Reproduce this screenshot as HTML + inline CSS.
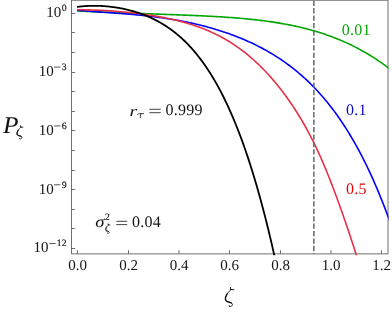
<!DOCTYPE html>
<html><head><meta charset="utf-8">
<style>
html,body{margin:0;padding:0;background:#fff;overflow:hidden;}
svg{display:block;will-change:transform;font-family:"Liberation Serif",serif;text-rendering:geometricPrecision;}
</style></head>
<body>
<svg width="392" height="312" viewBox="0 0 392 312">
<defs><clipPath id="c"><rect x="71.6" y="0" width="316.9" height="255.2"/></clipPath></defs>
<g stroke="#4c4c4c" stroke-width="0.8" fill="none">
<rect x="71.6" y="0.2" width="316.4" height="253.70000000000002"/>
<line x1="77.5" y1="253.9" x2="77.5" y2="250.20"/>
<line x1="128.5" y1="253.9" x2="128.5" y2="250.20"/>
<line x1="179.0" y1="253.9" x2="179.0" y2="250.20"/>
<line x1="229.5" y1="253.9" x2="229.5" y2="250.20"/>
<line x1="280.5" y1="253.9" x2="280.5" y2="250.20"/>
<line x1="331.0" y1="253.9" x2="331.0" y2="250.20"/>
<line x1="381.5" y1="253.9" x2="381.5" y2="250.20"/>
<line x1="71.6" y1="13.5" x2="75.20" y2="13.5"/>
<line x1="71.6" y1="32.5" x2="74.90" y2="32.5"/>
<line x1="71.6" y1="52.5" x2="74.90" y2="52.5"/>
<line x1="71.6" y1="72.5" x2="75.20" y2="72.5"/>
<line x1="71.6" y1="91.5" x2="74.90" y2="91.5"/>
<line x1="71.6" y1="111.5" x2="74.90" y2="111.5"/>
<line x1="71.6" y1="130.5" x2="75.20" y2="130.5"/>
<line x1="71.6" y1="150.5" x2="74.90" y2="150.5"/>
<line x1="71.6" y1="170.5" x2="74.90" y2="170.5"/>
<line x1="71.6" y1="189.5" x2="75.20" y2="189.5"/>
<line x1="71.6" y1="209.5" x2="74.90" y2="209.5"/>
<line x1="71.6" y1="228.5" x2="74.90" y2="228.5"/>
<line x1="71.6" y1="248.5" x2="75.20" y2="248.5"/>
</g>
<g clip-path="url(#c)" fill="none" stroke-width="1.6" stroke-linejoin="round">
<path d="M77.00,10.99 L78.57,11.04 L80.14,11.10 L81.71,11.16 L83.28,11.22 L84.85,11.29 L86.42,11.35 L87.99,11.41 L89.56,11.47 L91.13,11.54 L92.70,11.60 L94.27,11.66 L95.84,11.73 L97.41,11.79 L98.98,11.85 L100.56,11.92 L102.13,11.98 L103.70,12.04 L105.27,12.11 L106.84,12.17 L108.41,12.24 L109.98,12.30 L111.55,12.36 L113.12,12.42 L114.69,12.49 L116.26,12.55 L117.83,12.61 L119.40,12.67 L120.97,12.74 L122.54,12.80 L124.11,12.86 L125.68,12.92 L127.25,12.98 L128.82,13.04 L130.39,13.10 L131.96,13.16 L133.53,13.22 L135.10,13.28 L136.67,13.34 L138.24,13.40 L139.81,13.46 L141.38,13.51 L142.95,13.57 L144.53,13.63 L146.10,13.69 L147.67,13.75 L149.24,13.80 L150.81,13.86 L152.38,13.92 L153.95,13.97 L155.52,14.03 L157.09,14.09 L158.66,14.14 L160.23,14.20 L161.80,14.26 L163.37,14.32 L164.94,14.37 L166.51,14.43 L168.08,14.49 L169.65,14.54 L171.22,14.60 L172.79,14.66 L174.36,14.72 L175.93,14.78 L177.50,14.84 L179.07,14.90 L180.64,14.96 L182.21,15.02 L183.78,15.08 L185.35,15.14 L186.92,15.20 L188.49,15.27 L190.07,15.33 L191.64,15.40 L193.21,15.47 L194.78,15.53 L196.35,15.60 L197.92,15.67 L199.49,15.74 L201.06,15.81 L202.63,15.89 L204.20,15.96 L205.77,16.04 L207.34,16.12 L208.91,16.20 L210.48,16.28 L212.05,16.37 L213.62,16.45 L215.19,16.54 L216.76,16.63 L218.33,16.72 L219.90,16.82 L221.47,16.91 L223.04,17.01 L224.61,17.11 L226.18,17.22 L227.75,17.33 L229.32,17.44 L230.89,17.55 L232.46,17.66 L234.04,17.78 L235.61,17.91 L237.18,18.03 L238.75,18.16 L240.32,18.29 L241.89,18.43 L243.46,18.57 L245.03,18.72 L246.60,18.86 L248.17,19.02 L249.74,19.17 L251.31,19.33 L252.88,19.50 L254.45,19.67 L256.02,19.84 L257.59,20.02 L259.16,20.21 L260.73,20.40 L262.30,20.59 L263.87,20.79 L265.44,21.00 L267.01,21.21 L268.58,21.43 L270.15,21.65 L271.72,21.88 L273.29,22.12 L274.86,22.36 L276.43,22.61 L278.01,22.86 L279.58,23.12 L281.15,23.39 L282.72,23.67 L284.29,23.95 L285.86,24.24 L287.43,24.54 L289.00,24.84 L290.57,25.15 L292.14,25.48 L293.71,25.80 L295.28,26.14 L296.85,26.49 L298.42,26.84 L299.99,27.21 L301.56,27.58 L303.13,27.96 L304.70,28.35 L306.27,28.75 L307.84,29.16 L309.41,29.58 L310.98,30.01 L312.55,30.45 L314.12,30.90 L315.69,31.36 L317.26,31.84 L318.83,32.32 L320.40,32.81 L321.97,33.32 L323.55,33.84 L325.12,34.36 L326.69,34.90 L328.26,35.46 L329.83,36.02 L331.40,36.60 L332.97,37.19 L334.54,37.79 L336.11,38.41 L337.68,39.04 L339.25,39.68 L340.82,40.34 L342.39,41.01 L343.96,41.69 L345.53,42.39 L347.10,43.11 L348.67,43.83 L350.24,44.58 L351.81,45.34 L353.38,46.11 L354.95,46.90 L356.52,47.71 L358.09,48.53 L359.66,49.37 L361.23,50.22 L362.80,51.09 L364.37,51.98 L365.94,52.89 L367.52,53.81 L369.09,54.75 L370.66,55.71 L372.23,56.69 L373.80,57.69 L375.37,58.70 L376.94,59.73 L378.51,60.79 L380.08,61.86 L381.65,62.95 L383.22,64.06 L384.79,65.20 L386.36,66.35 L387.93,67.52 L389.50,68.70" stroke="#04a604"/>
<path d="M77.00,10.24 L78.57,10.38 L80.14,10.52 L81.71,10.66 L83.28,10.80 L84.85,10.93 L86.42,11.06 L87.99,11.19 L89.56,11.31 L91.13,11.43 L92.70,11.55 L94.27,11.66 L95.84,11.77 L97.41,11.88 L98.98,11.99 L100.56,12.10 L102.13,12.21 L103.70,12.32 L105.27,12.43 L106.84,12.53 L108.41,12.64 L109.98,12.75 L111.55,12.86 L113.12,12.97 L114.69,13.08 L116.26,13.19 L117.83,13.30 L119.40,13.42 L120.97,13.54 L122.54,13.65 L124.11,13.78 L125.68,13.90 L127.25,14.03 L128.82,14.16 L130.39,14.29 L131.96,14.42 L133.53,14.56 L135.10,14.71 L136.67,14.85 L138.24,15.00 L139.81,15.16 L141.38,15.31 L142.95,15.47 L144.53,15.64 L146.10,15.81 L147.67,15.99 L149.24,16.17 L150.81,16.35 L152.38,16.54 L153.95,16.73 L155.52,16.93 L157.09,17.13 L158.66,17.34 L160.23,17.56 L161.80,17.78 L163.37,18.00 L164.94,18.24 L166.51,18.47 L168.08,18.72 L169.65,18.97 L171.22,19.22 L172.79,19.48 L174.36,19.75 L175.93,20.02 L177.50,20.30 L179.07,20.59 L180.64,20.88 L182.21,21.18 L183.78,21.49 L185.35,21.80 L186.92,22.12 L188.49,22.45 L190.07,22.79 L191.64,23.13 L193.21,23.48 L194.78,23.84 L196.35,24.20 L197.92,24.57 L199.49,24.95 L201.06,25.34 L202.63,25.74 L204.20,26.14 L205.77,26.56 L207.34,26.98 L208.91,27.41 L210.48,27.85 L212.05,28.29 L213.62,28.75 L215.19,29.22 L216.76,29.69 L218.33,30.18 L219.90,30.67 L221.47,31.17 L223.04,31.69 L224.61,32.21 L226.18,32.74 L227.75,33.29 L229.32,33.84 L230.89,34.41 L232.46,34.98 L234.04,35.57 L235.61,36.17 L237.18,36.78 L238.75,37.40 L240.32,38.04 L241.89,38.69 L243.46,39.35 L245.03,40.02 L246.60,40.70 L248.17,41.40 L249.74,42.11 L251.31,42.84 L252.88,43.58 L254.45,44.33 L256.02,45.10 L257.59,45.89 L259.16,46.69 L260.73,47.50 L262.30,48.33 L263.87,49.18 L265.44,50.04 L267.01,50.92 L268.58,51.82 L270.15,52.74 L271.72,53.67 L273.29,54.62 L274.86,55.59 L276.43,56.59 L278.01,57.60 L279.58,58.63 L281.15,59.68 L282.72,60.75 L284.29,61.84 L285.86,62.96 L287.43,64.10 L289.00,65.26 L290.57,66.45 L292.14,67.65 L293.71,68.89 L295.28,70.15 L296.85,71.43 L298.42,72.74 L299.99,74.08 L301.56,75.45 L303.13,76.84 L304.70,78.26 L306.27,79.71 L307.84,81.19 L309.41,82.70 L310.98,84.25 L312.55,85.82 L314.12,87.43 L315.69,89.07 L317.26,90.74 L318.83,92.45 L320.40,94.20 L321.97,95.98 L323.55,97.80 L325.12,99.66 L326.69,101.55 L328.26,103.49 L329.83,105.46 L331.40,107.48 L332.97,109.54 L334.54,111.64 L336.11,113.79 L337.68,115.98 L339.25,118.22 L340.82,120.50 L342.39,122.83 L343.96,125.21 L345.53,127.64 L347.10,130.12 L348.67,132.66 L350.24,135.24 L351.81,137.88 L353.38,140.57 L354.95,143.33 L356.52,146.13 L358.09,149.00 L359.66,151.93 L361.23,154.91 L362.80,157.96 L364.37,161.07 L365.94,164.25 L367.52,167.49 L369.09,170.80 L370.66,174.18 L372.23,177.63 L373.80,181.14 L375.37,184.74 L376.94,188.40 L378.51,192.14 L380.08,195.95 L381.65,199.85 L383.22,203.82 L384.79,207.87 L386.36,212.01 L387.93,216.23 L389.50,220.52" stroke="#0000ff"/>
<path d="M77.00,9.81 L78.41,9.80 L79.81,9.80 L81.22,9.80 L82.62,9.81 L84.03,9.82 L85.43,9.84 L86.84,9.86 L88.24,9.89 L89.65,9.92 L91.05,9.96 L92.46,10.00 L93.86,10.04 L95.27,10.09 L96.67,10.15 L98.08,10.21 L99.48,10.27 L100.89,10.34 L102.29,10.41 L103.70,10.49 L105.10,10.57 L106.51,10.65 L107.91,10.74 L109.32,10.83 L110.72,10.92 L112.13,11.02 L113.53,11.12 L114.94,11.23 L116.34,11.34 L117.75,11.45 L119.15,11.57 L120.56,11.69 L121.96,11.82 L123.37,11.95 L124.77,12.08 L126.18,12.22 L127.58,12.36 L128.99,12.50 L130.39,12.65 L131.80,12.81 L133.20,12.96 L134.61,13.12 L136.01,13.29 L137.42,13.46 L138.82,13.63 L140.23,13.81 L141.63,14.00 L143.04,14.18 L144.44,14.38 L145.85,14.57 L147.25,14.78 L148.66,14.98 L150.06,15.20 L151.47,15.41 L152.87,15.64 L154.28,15.87 L155.68,16.10 L157.09,16.34 L158.49,16.59 L159.90,16.84 L161.30,17.10 L162.71,17.37 L164.11,17.64 L165.52,17.92 L166.92,18.20 L168.33,18.50 L169.73,18.80 L171.14,19.10 L172.54,19.42 L173.95,19.74 L175.35,20.07 L176.76,20.41 L178.16,20.76 L179.57,21.12 L180.97,21.49 L182.38,21.86 L183.78,22.25 L185.19,22.64 L186.59,23.05 L188.00,23.46 L189.40,23.89 L190.81,24.33 L192.21,24.77 L193.62,25.23 L195.02,25.70 L196.43,26.19 L197.83,26.68 L199.24,27.19 L200.64,27.71 L202.05,28.24 L203.45,28.79 L204.86,29.35 L206.26,29.92 L207.67,30.51 L209.07,31.11 L210.48,31.73 L211.88,32.36 L213.29,33.01 L214.69,33.68 L216.10,34.36 L217.50,35.06 L218.91,35.77 L220.31,36.51 L221.72,37.26 L223.12,38.03 L224.53,38.81 L225.93,39.62 L227.34,40.45 L228.74,41.29 L230.15,42.16 L231.55,43.04 L232.96,43.95 L234.36,44.88 L235.77,45.83 L237.17,46.80 L238.58,47.80 L239.98,48.81 L241.39,49.85 L242.79,50.92 L244.20,52.00 L245.60,53.11 L247.01,54.24 L248.41,55.39 L249.82,56.57 L251.22,57.78 L252.63,59.01 L254.03,60.26 L255.44,61.54 L256.84,62.84 L258.25,64.18 L259.65,65.53 L261.06,66.92 L262.46,68.33 L263.87,69.76 L265.27,71.23 L266.68,72.72 L268.08,74.24 L269.49,75.79 L270.89,77.37 L272.30,78.98 L273.70,80.62 L275.11,82.29 L276.51,83.99 L277.92,85.72 L279.32,87.48 L280.73,89.28 L282.13,91.10 L283.54,92.96 L284.94,94.85 L286.35,96.77 L287.75,98.73 L289.16,100.73 L290.56,102.75 L291.97,104.82 L293.37,106.92 L294.78,109.05 L296.18,111.23 L297.59,113.45 L298.99,115.71 L300.40,118.02 L301.80,120.38 L303.21,122.78 L304.61,125.23 L306.02,127.74 L307.42,130.30 L308.83,132.91 L310.23,135.58 L311.64,138.30 L313.04,141.09 L314.45,143.94 L315.85,146.85 L317.26,149.83 L318.66,152.87 L320.07,155.98 L321.47,159.16 L322.88,162.40 L324.28,165.71 L325.69,169.07 L327.09,172.50 L328.50,175.99 L329.90,179.53 L331.31,183.13 L332.71,186.79 L334.12,190.49 L335.52,194.25 L336.93,198.06 L338.33,201.91 L339.74,205.81 L341.14,209.75 L342.55,213.74 L343.95,217.77 L345.36,221.84 L346.76,225.95 L348.17,230.09 L349.57,234.27 L350.98,238.48 L352.38,242.73 L353.79,247.01 L355.19,251.31 L356.60,255.81" stroke="#e53248"/>
<path d="M77.00,6.91 L78.00,6.79 L78.99,6.67 L79.99,6.56 L80.98,6.46 L81.98,6.36 L82.97,6.28 L83.97,6.20 L84.97,6.12 L85.96,6.06 L86.96,6.00 L87.95,5.95 L88.95,5.91 L89.94,5.87 L90.94,5.85 L91.94,5.83 L92.93,5.81 L93.93,5.81 L94.92,5.81 L95.92,5.82 L96.91,5.83 L97.91,5.86 L98.91,5.89 L99.90,5.92 L100.90,5.97 L101.89,6.02 L102.89,6.07 L103.88,6.14 L104.88,6.21 L105.88,6.29 L106.87,6.37 L107.87,6.47 L108.86,6.56 L109.86,6.67 L110.85,6.78 L111.85,6.90 L112.85,7.03 L113.84,7.16 L114.84,7.30 L115.83,7.45 L116.83,7.61 L117.82,7.77 L118.82,7.94 L119.82,8.12 L120.81,8.30 L121.81,8.49 L122.80,8.69 L123.80,8.90 L124.79,9.11 L125.79,9.33 L126.79,9.56 L127.78,9.80 L128.78,10.05 L129.77,10.30 L130.77,10.56 L131.77,10.83 L132.76,11.11 L133.76,11.40 L134.75,11.69 L135.75,12.00 L136.74,12.31 L137.74,12.63 L138.74,12.96 L139.73,13.30 L140.73,13.65 L141.72,14.01 L142.72,14.38 L143.71,14.75 L144.71,15.14 L145.71,15.54 L146.70,15.95 L147.70,16.37 L148.69,16.80 L149.69,17.24 L150.68,17.69 L151.68,18.15 L152.68,18.62 L153.67,19.11 L154.67,19.60 L155.66,20.11 L156.66,20.63 L157.65,21.16 L158.65,21.71 L159.65,22.26 L160.64,22.83 L161.64,23.42 L162.63,24.01 L163.63,24.62 L164.62,25.25 L165.62,25.88 L166.62,26.53 L167.61,27.20 L168.61,27.88 L169.60,28.58 L170.60,29.29 L171.59,30.01 L172.59,30.76 L173.59,31.51 L174.58,32.29 L175.58,33.08 L176.57,33.89 L177.57,34.71 L178.56,35.55 L179.56,36.41 L180.56,37.29 L181.55,38.19 L182.55,39.10 L183.54,40.03 L184.54,40.98 L185.53,41.96 L186.53,42.95 L187.53,43.96 L188.52,44.99 L189.52,46.04 L190.51,47.12 L191.51,48.21 L192.50,49.33 L193.50,50.47 L194.50,51.63 L195.49,52.81 L196.49,54.02 L197.48,55.25 L198.48,56.50 L199.47,57.78 L200.47,59.08 L201.47,60.41 L202.46,61.76 L203.46,63.14 L204.45,64.55 L205.45,65.98 L206.44,67.43 L207.44,68.92 L208.44,70.43 L209.43,71.97 L210.43,73.54 L211.42,75.14 L212.42,76.77 L213.41,78.42 L214.41,80.11 L215.41,81.83 L216.40,83.57 L217.40,85.35 L218.39,87.17 L219.39,89.01 L220.38,90.89 L221.38,92.79 L222.38,94.74 L223.37,96.71 L224.37,98.73 L225.36,100.77 L226.36,102.85 L227.36,104.97 L228.35,107.13 L229.35,109.32 L230.34,111.55 L231.34,113.81 L232.33,116.12 L233.33,118.46 L234.33,120.84 L235.32,123.26 L236.32,125.73 L237.31,128.23 L238.31,130.78 L239.30,133.36 L240.30,135.99 L241.30,138.66 L242.29,141.38 L243.29,144.14 L244.28,146.94 L245.28,149.79 L246.27,152.69 L247.27,155.63 L248.27,158.62 L249.26,161.65 L250.26,164.73 L251.25,167.87 L252.25,171.05 L253.24,174.28 L254.24,177.55 L255.24,180.89 L256.23,184.27 L257.23,187.70 L258.22,191.19 L259.22,194.73 L260.21,198.32 L261.21,201.97 L262.21,205.67 L263.20,209.43 L264.20,213.24 L265.19,217.11 L266.19,221.04 L267.18,225.02 L268.18,229.07 L269.18,233.17 L270.17,237.34 L271.17,241.56 L272.16,245.84 L273.16,250.19 L274.15,254.60 L275.15,259.12" stroke="#000" stroke-width="1.8"/>
<line x1="313.85" y1="0.67" x2="313.85" y2="254" stroke="#6c6c6c" stroke-width="1.55" stroke-dasharray="5.3,2.13"/>
</g>
<g font-size="15" fill="#161616">
<text x="77.70" y="270.4" text-anchor="middle">0.0</text>
<text x="128.70" y="270.4" text-anchor="middle">0.2</text>
<text x="179.20" y="270.4" text-anchor="middle">0.4</text>
<text x="229.70" y="270.4" text-anchor="middle">0.6</text>
<text x="280.70" y="270.4" text-anchor="middle">0.8</text>
<text x="331.20" y="270.4" text-anchor="middle">1.0</text>
<text x="381.70" y="270.4" text-anchor="middle">1.2</text>
<text x="61.3" y="17.05" text-anchor="end">10</text>
<text x="66.55" y="11.05" text-anchor="end" font-size="9.7" stroke="#222" stroke-width="0.2">0</text>
<text x="53.7" y="75.86" text-anchor="end">10</text>
<text x="66.55" y="69.86" text-anchor="end" font-size="9.7" stroke="#222" stroke-width="0.2">3</text>
<line x1="54.0" y1="67.11" x2="60.4" y2="67.11" stroke="#222" stroke-width="0.75"/>
<text x="53.7" y="134.68" text-anchor="end">10</text>
<text x="66.55" y="128.68" text-anchor="end" font-size="9.7" stroke="#222" stroke-width="0.2">6</text>
<line x1="54.0" y1="125.93" x2="60.4" y2="125.93" stroke="#222" stroke-width="0.75"/>
<text x="53.7" y="193.50" text-anchor="end">10</text>
<text x="66.55" y="187.50" text-anchor="end" font-size="9.7" stroke="#222" stroke-width="0.2">9</text>
<line x1="54.0" y1="184.75" x2="60.4" y2="184.75" stroke="#222" stroke-width="0.75"/>
<text x="48.5" y="252.31" text-anchor="end">10</text>
<text x="66.55" y="246.31" text-anchor="end" font-size="9.7" stroke="#222" stroke-width="0.2">12</text>
<line x1="49.4" y1="243.56" x2="55.7" y2="243.56" stroke="#222" stroke-width="0.75"/>
</g>
<g font-size="16" letter-spacing="0.25">
<text x="341.7" y="35.3" fill="#0aa60a">0.01</text>
<text x="345.9" y="115.45" fill="#0c0cc4">0.1</text>
<text x="345.9" y="194.35" fill="#e60008">0.5</text>
<text x="165.4" y="115.3" fill="#111">0.999</text>
<line x1="149.4" y1="109.3" x2="160.7" y2="109.3" stroke="#111" stroke-width="0.8"/><line x1="149.4" y1="112.7" x2="160.7" y2="112.7" stroke="#111" stroke-width="0.8"/>
<text transform="translate(129.5,115.6) scale(1.24,0.93)" fill="#111" font-style="italic">r</text>
<path d="M137.5,114.5 C137.9,113.8 138.5,113.65 139.3,113.65 L143.6,113.65 M140.8,113.7 L140.2,117.0 Q140.1,117.6 140.6,117.6" fill="none" stroke="#111" stroke-width="0.78" stroke-linecap="round"/>
<text x="132.0" y="226.9" fill="#111">0.04</text>
<line x1="116.3" y1="221.3" x2="127.2" y2="221.3" stroke="#111" stroke-width="0.8"/><line x1="116.3" y1="224.6" x2="127.2" y2="224.6" stroke="#111" stroke-width="0.8"/>
<text transform="translate(95.2,227.1) scale(1.17,1.02)" fill="#111" font-style="italic">σ</text>
<text x="104.9" y="220.3" fill="#111" font-size="9.6" stroke="#111" stroke-width="0.15">2</text>
<g transform="translate(105.4,223.7) scale(0.5)" fill="none" stroke="#111" stroke-linecap="round" stroke-linejoin="round"><path d="M6.45,2.50 L6.17,2.66 L5.89,2.83 L5.63,3.01 L5.37,3.20 L5.12,3.41 L4.88,3.62 L4.65,3.83 L4.42,4.06 L4.20,4.29 L3.98,4.53 L3.77,4.77 L3.57,5.02 L3.36,5.27 L3.17,5.52 L2.97,5.78 L2.79,6.04 L2.61,6.31 L2.43,6.58 L2.27,6.85 L2.12,7.13 L1.97,7.42 L1.83,7.70 L1.69,7.99 L1.55,8.28 L1.41,8.58 L1.28,8.87 L1.14,9.16 L1.02,9.46 L0.91,9.76 L0.81,10.06 L0.74,10.37 L0.69,10.69 L0.65,11.01 L0.64,11.33 L0.65,11.66 L0.68,11.98 L0.74,12.30 L0.82,12.61 L0.95,12.90 L1.11,13.18 L1.31,13.43 L1.54,13.66 L1.79,13.87 L2.06,14.05 L2.33,14.21 L2.62,14.36 L2.92,14.49 L3.22,14.60 L3.52,14.71 L3.83,14.81 L4.13,14.91 L4.44,15.01 L4.74,15.10 L5.05,15.20 L5.35,15.30 L5.65,15.41 L5.95,15.53 L6.25,15.66 L6.54,15.80 L6.82,15.97 L7.07,16.17 L7.29,16.41 L7.47,16.68 L7.59,16.99 L7.65,17.30 L7.63,17.63 L7.55,17.94 L7.41,18.24 L7.22,18.51 L6.99,18.74 L6.73,18.93 L6.44,19.08 L6.14,19.19 L5.82,19.25 L5.49,19.26 L5.17,19.22 L4.86,19.13 L4.57,18.99 L4.30,18.80" stroke-width="1.60"/><path d="M2.43,6.58 L2.27,6.85 L2.12,7.13 L1.97,7.42 L1.83,7.70 L1.69,7.99 L1.55,8.28 L1.41,8.58 L1.28,8.87 L1.14,9.16 L1.02,9.46 L0.91,9.76 L0.81,10.06 L0.74,10.37 L0.69,10.69 L0.65,11.01 L0.64,11.33 L0.65,11.66 L0.68,11.98 L0.74,12.30 L0.82,12.61 L0.95,12.90 L1.11,13.18 L1.31,13.43 L1.54,13.66 L1.79,13.87 L2.06,14.05 L2.33,14.21 L2.62,14.36 L2.92,14.49 L3.22,14.60 L3.52,14.71 L3.83,14.81 L4.13,14.91 L4.44,15.01 L4.74,15.10 L5.05,15.20 L5.35,15.30 L5.65,15.41 L5.95,15.53 L6.25,15.66 L6.54,15.80" stroke-width="1.98"/><path d="M5.65,0.25 L5.95,2.10 M5.4,2.3 L9.1,2.5" stroke-width="1.60"/><circle cx="4.55" cy="18.75" r="0.55" fill="#111" stroke="none"/></g>
</g>
<text transform="translate(3.1,132.9) scale(1.06,1)" font-size="24" font-style="italic" fill="#111">P</text>
<g transform="translate(16.6,125.5) scale(0.69)" fill="none" stroke="#111" stroke-linecap="round" stroke-linejoin="round"><path d="M6.45,2.50 L6.17,2.66 L5.89,2.83 L5.63,3.01 L5.37,3.20 L5.12,3.41 L4.88,3.62 L4.65,3.83 L4.42,4.06 L4.20,4.29 L3.98,4.53 L3.77,4.77 L3.57,5.02 L3.36,5.27 L3.17,5.52 L2.97,5.78 L2.79,6.04 L2.61,6.31 L2.43,6.58 L2.27,6.85 L2.12,7.13 L1.97,7.42 L1.83,7.70 L1.69,7.99 L1.55,8.28 L1.41,8.58 L1.28,8.87 L1.14,9.16 L1.02,9.46 L0.91,9.76 L0.81,10.06 L0.74,10.37 L0.69,10.69 L0.65,11.01 L0.64,11.33 L0.65,11.66 L0.68,11.98 L0.74,12.30 L0.82,12.61 L0.95,12.90 L1.11,13.18 L1.31,13.43 L1.54,13.66 L1.79,13.87 L2.06,14.05 L2.33,14.21 L2.62,14.36 L2.92,14.49 L3.22,14.60 L3.52,14.71 L3.83,14.81 L4.13,14.91 L4.44,15.01 L4.74,15.10 L5.05,15.20 L5.35,15.30 L5.65,15.41 L5.95,15.53 L6.25,15.66 L6.54,15.80 L6.82,15.97 L7.07,16.17 L7.29,16.41 L7.47,16.68 L7.59,16.99 L7.65,17.30 L7.63,17.63 L7.55,17.94 L7.41,18.24 L7.22,18.51 L6.99,18.74 L6.73,18.93 L6.44,19.08 L6.14,19.19 L5.82,19.25 L5.49,19.26 L5.17,19.22 L4.86,19.13 L4.57,18.99 L4.30,18.80" stroke-width="1.25"/><path d="M2.43,6.58 L2.27,6.85 L2.12,7.13 L1.97,7.42 L1.83,7.70 L1.69,7.99 L1.55,8.28 L1.41,8.58 L1.28,8.87 L1.14,9.16 L1.02,9.46 L0.91,9.76 L0.81,10.06 L0.74,10.37 L0.69,10.69 L0.65,11.01 L0.64,11.33 L0.65,11.66 L0.68,11.98 L0.74,12.30 L0.82,12.61 L0.95,12.90 L1.11,13.18 L1.31,13.43 L1.54,13.66 L1.79,13.87 L2.06,14.05 L2.33,14.21 L2.62,14.36 L2.92,14.49 L3.22,14.60 L3.52,14.71 L3.83,14.81 L4.13,14.91 L4.44,15.01 L4.74,15.10 L5.05,15.20 L5.35,15.30 L5.65,15.41 L5.95,15.53 L6.25,15.66 L6.54,15.80" stroke-width="1.66"/><path d="M5.65,0.25 L5.95,2.10 M5.4,2.3 L9.1,2.5" stroke-width="1.25"/><circle cx="4.55" cy="18.75" r="0.55" fill="#111" stroke="none"/></g>
<g transform="translate(224.8,287.2) scale(1)" fill="none" stroke="#111" stroke-linecap="round" stroke-linejoin="round"><path d="M6.45,2.50 L6.17,2.66 L5.89,2.83 L5.63,3.01 L5.37,3.20 L5.12,3.41 L4.88,3.62 L4.65,3.83 L4.42,4.06 L4.20,4.29 L3.98,4.53 L3.77,4.77 L3.57,5.02 L3.36,5.27 L3.17,5.52 L2.97,5.78 L2.79,6.04 L2.61,6.31 L2.43,6.58 L2.27,6.85 L2.12,7.13 L1.97,7.42 L1.83,7.70 L1.69,7.99 L1.55,8.28 L1.41,8.58 L1.28,8.87 L1.14,9.16 L1.02,9.46 L0.91,9.76 L0.81,10.06 L0.74,10.37 L0.69,10.69 L0.65,11.01 L0.64,11.33 L0.65,11.66 L0.68,11.98 L0.74,12.30 L0.82,12.61 L0.95,12.90 L1.11,13.18 L1.31,13.43 L1.54,13.66 L1.79,13.87 L2.06,14.05 L2.33,14.21 L2.62,14.36 L2.92,14.49 L3.22,14.60 L3.52,14.71 L3.83,14.81 L4.13,14.91 L4.44,15.01 L4.74,15.10 L5.05,15.20 L5.35,15.30 L5.65,15.41 L5.95,15.53 L6.25,15.66 L6.54,15.80 L6.82,15.97 L7.07,16.17 L7.29,16.41 L7.47,16.68 L7.59,16.99 L7.65,17.30 L7.63,17.63 L7.55,17.94 L7.41,18.24 L7.22,18.51 L6.99,18.74 L6.73,18.93 L6.44,19.08 L6.14,19.19 L5.82,19.25 L5.49,19.26 L5.17,19.22 L4.86,19.13 L4.57,18.99 L4.30,18.80" stroke-width="0.95"/><path d="M2.43,6.58 L2.27,6.85 L2.12,7.13 L1.97,7.42 L1.83,7.70 L1.69,7.99 L1.55,8.28 L1.41,8.58 L1.28,8.87 L1.14,9.16 L1.02,9.46 L0.91,9.76 L0.81,10.06 L0.74,10.37 L0.69,10.69 L0.65,11.01 L0.64,11.33 L0.65,11.66 L0.68,11.98 L0.74,12.30 L0.82,12.61 L0.95,12.90 L1.11,13.18 L1.31,13.43 L1.54,13.66 L1.79,13.87 L2.06,14.05 L2.33,14.21 L2.62,14.36 L2.92,14.49 L3.22,14.60 L3.52,14.71 L3.83,14.81 L4.13,14.91 L4.44,15.01 L4.74,15.10 L5.05,15.20 L5.35,15.30 L5.65,15.41 L5.95,15.53 L6.25,15.66 L6.54,15.80" stroke-width="1.35"/><path d="M5.65,0.25 L5.95,2.10 M5.4,2.3 L9.1,2.5" stroke-width="0.95"/><circle cx="4.55" cy="18.75" r="0.55" fill="#111" stroke="none"/></g>
</svg>
</body></html>
